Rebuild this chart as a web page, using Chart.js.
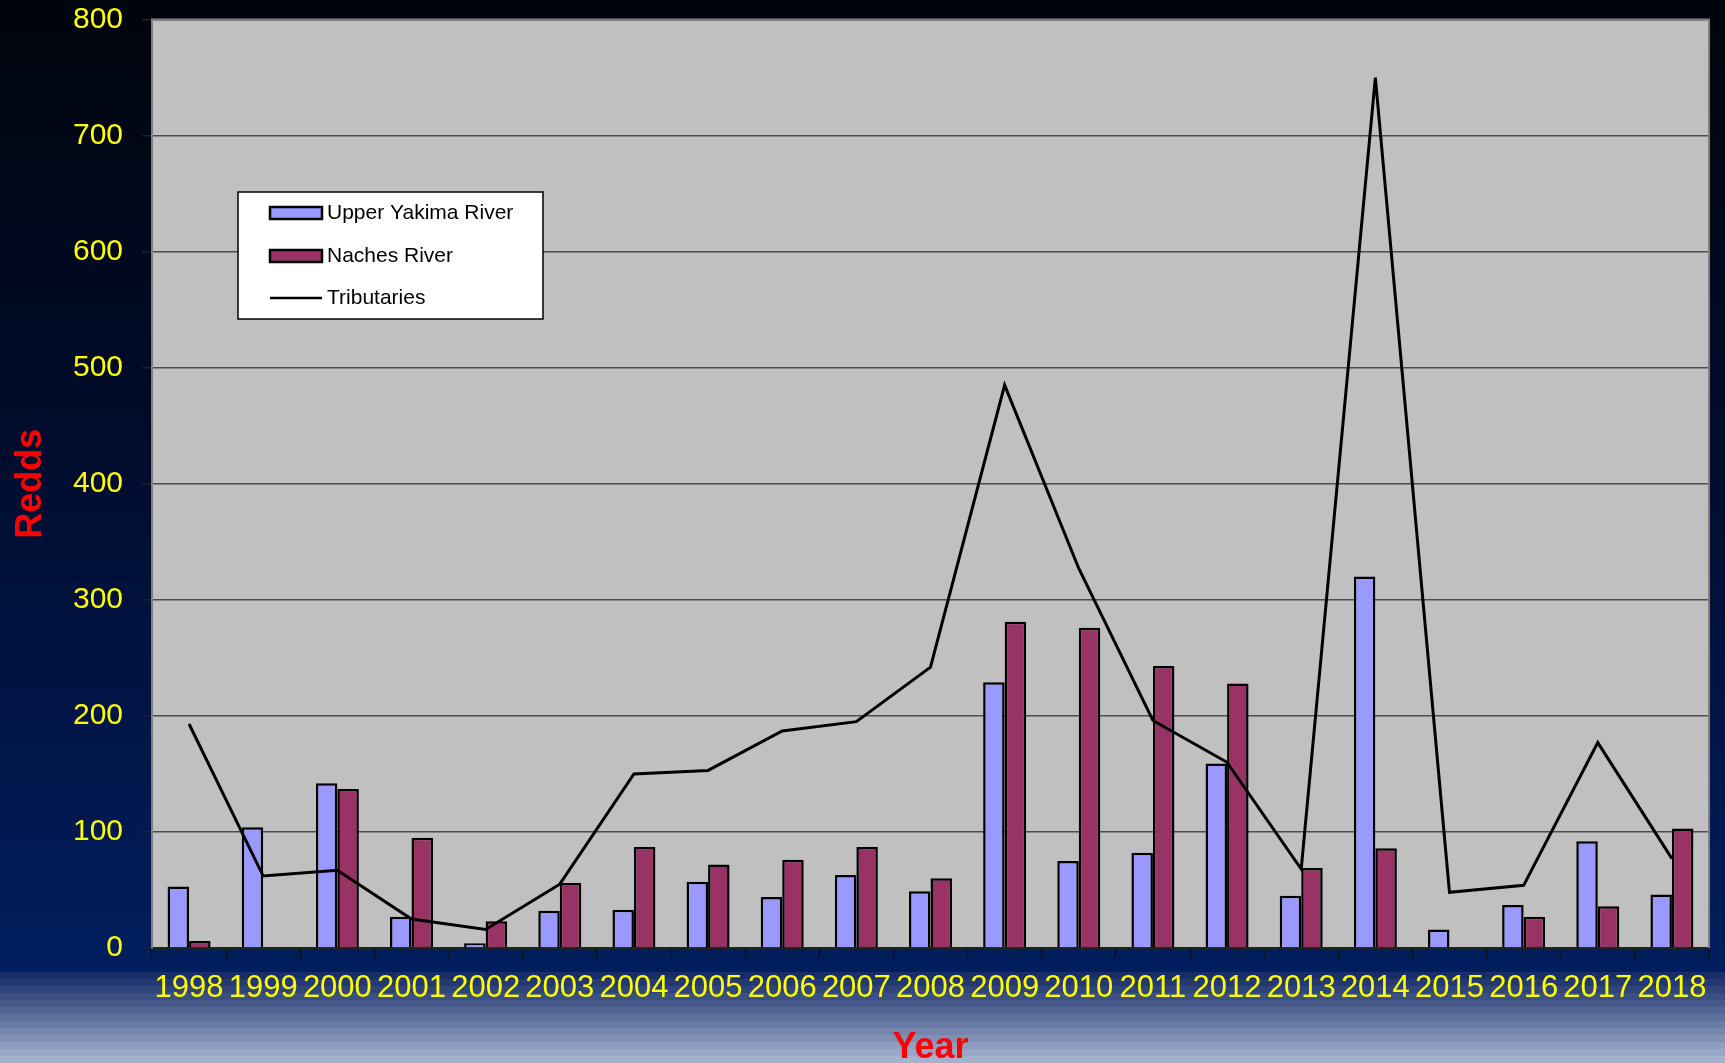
<!DOCTYPE html>
<html><head><meta charset="utf-8">
<script src="https://cdn.jsdelivr.net/npm/chart.js@4.4.0/dist/chart.umd.min.js"></script>
<style>html,body{margin:0;padding:0;background:#000a20;overflow:hidden}canvas{display:block}</style>
</head><body>
<canvas id="c" width="1725" height="1063"></canvas>
<script>
const years = ['1998','1999','2000','2001','2002','2003','2004','2005','2006','2007','2008','2009','2010','2011','2012','2013','2014','2015','2016','2017','2018'];
const upperYakima = [53, 104, 142, 27, 4, 32, 33, 57, 44, 63, 49, 229, 75, 82, 159, 45, 320, 16, 37, 92, 46];
const nachesRiver = [6, 0, 137, 95, 23, 56, 87, 72, 76, 87, 60, 281, 276, 243, 228, 69, 86, 0, 27, 36, 103];
const tributaries = [193, 62, 67, 25, 16, 55, 150, 153, 187, 195, 242, 485, 327, 196, 160, 68, 750, 48, 54, 177, 77];
const yTicks = [0, 100, 200, 300, 400, 500, 600, 700, 800];
const seriesNames = ['Upper Yakima River', 'Naches River', 'Tributaries'];
const xTitle = 'Year';
const yTitle = 'Redds';

const FONT = "'Liberation Sans', Arial, sans-serif";

const backgroundPlugin = {
  id: 'bg',
  beforeDraw(chart) {
    const {ctx, width, height, chartArea: a} = chart;
    ctx.save();
    const bandTop = 972;
    const g = ctx.createLinearGradient(0, 0, 0, bandTop);
    g.addColorStop(0, '#00040c');
    g.addColorStop(0.45, '#000c2c');
    g.addColorStop(1, '#001e5e');
    ctx.fillStyle = g;
    ctx.fillRect(0, 0, width, bandTop);
    const n = 13, bh = (height - bandTop) / n;
    const c0 = [24, 46, 104], c1 = [164, 178, 208];
    for (let i = 0; i < n; i++) {
      const t = i / (n - 1);
      const c = c0.map((v, k) => Math.round(v + (c1[k] - v) * t));
      ctx.fillStyle = `rgb(${c[0]},${c[1]},${c[2]})`;
      ctx.fillRect(0, bandTop + i * bh, width, bh + 1);
    }
    ctx.fillStyle = '#c0c0c0';
    ctx.fillRect(a.left, a.top, a.right - a.left, a.bottom - a.top);
    ctx.restore();
  },
  beforeDatasetsDraw(chart) {
    const {ctx, chartArea: a} = chart;
    ctx.save();
    ctx.strokeStyle = '#808080';
    ctx.lineWidth = 2;
    ctx.beginPath();
    ctx.moveTo(a.left, a.bottom);
    ctx.lineTo(a.left, a.top);
    ctx.lineTo(a.right, a.top);
    ctx.lineTo(a.right, a.bottom);
    ctx.stroke();
    ctx.restore();
  }
};

const legendPlugin = {
  id: 'boxLegend',
  afterDraw(chart) {
    const {ctx} = chart;
    const x = 238, y = 192, w = 305, h = 127;
    ctx.save();
    ctx.fillStyle = '#ffffff';
    ctx.fillRect(x, y, w, h);
    ctx.strokeStyle = '#000000';
    ctx.lineWidth = 1.5;
    ctx.strokeRect(x, y, w, h);
    const rows = [213, 256, 298];
    const ds = chart.data.datasets;
    const idx = [1, 2, 0];
    ctx.font = '21px ' + FONT;
    ctx.textBaseline = 'middle';
    ctx.textAlign = 'left';
    idx.forEach((di, r) => {
      const d = ds[di];
      const cy = rows[r];
      if (d.type === 'line') {
        ctx.strokeStyle = d.borderColor;
        ctx.lineWidth = 2.5;
        ctx.beginPath();
        ctx.moveTo(270, cy);
        ctx.lineTo(322, cy);
        ctx.stroke();
      } else {
        ctx.fillStyle = d.backgroundColor;
        ctx.fillRect(270, cy - 6, 52, 12);
        ctx.strokeStyle = '#000';
        ctx.lineWidth = 2.5;
        ctx.strokeRect(270, cy - 6, 52, 12);
      }
      ctx.fillStyle = '#000';
      ctx.fillText(d.label, 327, cy);
    });
    ctx.restore();
  }
};

new Chart(document.getElementById('c'), {
  type: 'bar',
  data: {
    labels: years,
    datasets: [
      {type: 'line', label: seriesNames[2], data: tributaries, borderColor: '#000000', borderWidth: 3,
       pointRadius: 0, tension: 0, fill: false, order: 0},
      {type: 'bar', label: seriesNames[0], data: upperYakima, backgroundColor: '#9999ff', borderColor: '#000000',
       borderWidth: 2.5, categoryPercentage: 0.58, barPercentage: 1.0, order: 1},
      {type: 'bar', label: seriesNames[1], data: nachesRiver, backgroundColor: '#993366', borderColor: '#000000',
       borderWidth: 2.5, categoryPercentage: 0.58, barPercentage: 1.0, order: 1}
    ]
  },
  options: {
    responsive: false,
    animation: false,
    layout: {padding: {top: 19.5, right: 16, left: 0, bottom: 0}},
    plugins: {legend: {display: false}, tooltip: {enabled: false}},
    scales: {
      x: {
        offset: true,
        grid: {display: true, drawOnChartArea: false, drawTicks: true, tickLength: 10, tickColor: '#111111', tickWidth: 1.5, offset: true},
        border: {display: true, color: '#222222', width: 2},
        ticks: {color: '#ffff00', font: {family: FONT, size: 31}, padding: 12, maxRotation: 0, autoSkip: false},
        title: {display: true, text: xTitle, color: '#ff0000', font: {family: FONT, size: 36, weight: 'bold', lineHeight: 0.85}, padding: {top: 0, bottom: 0}},
        afterFit(s) { s.height = 115; s.paddingLeft = 0; s.paddingRight = 0; }
      },
      y: {
        min: 0, max: 800,
        afterBuildTicks(s) { s.ticks = yTicks.map(v => ({value: v})); },
        ticks: {color: '#ffff00', font: {family: FONT, size: 30}, padding: 19},
        grid: {color: '#4d4d4d', lineWidth: 1.5, tickLength: 10, tickColor: '#222222'},
        border: {display: true, color: '#808080', width: 2},
        title: {display: true, text: yTitle, color: '#ff0000', font: {family: FONT, size: 36, weight: 'bold', lineHeight: 1}, padding: {top: 13, bottom: 0}},
        afterFit(s) { s.width = 152; s.paddingTop = 0; s.paddingBottom = 0; }
      }
    }
  },
  plugins: [backgroundPlugin, legendPlugin]
});
</script>
</body></html>
